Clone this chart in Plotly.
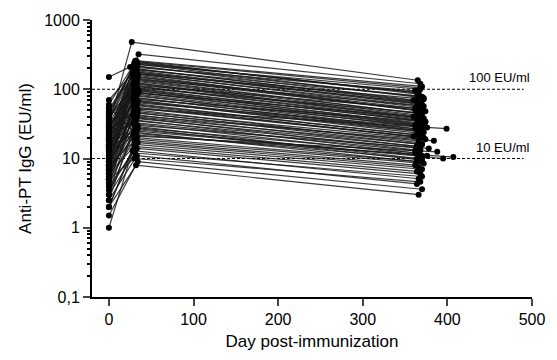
import numpy as np
import plotly.graph_objects as go

# Per-subject values: baseline (day 0), peak (~day 30), late (~day 365)
day0_values = [30, 20, 150, 60, 45, 40, 35, 25, 50, 12, 18, 70, 8, 15, 22, 10, 28, 6, 14, 40,
               5, 9, 30, 12, 4, 16, 7, 20, 11, 3, 25, 8, 13, 5, 18, 9, 2.5, 6, 12, 4,
               10, 3, 7, 15, 2, 5, 8, 3.5, 6, 2, 4, 1, 3, 2.5, 5, 1.5, 2, 35, 22, 18,
               9, 28, 14, 10, 6,
               24, 16, 48, 11, 32, 7, 19, 26, 13, 42, 9, 17, 5.5, 21, 33, 12, 8, 27, 15, 4.5,
               38, 10, 23, 6.5, 14, 55, 19, 11, 7.5, 29]
peak_days = [27, 35, 25, 32, 33, 30, 34, 31, 29, 33, 30, 28, 32, 34, 30, 33, 31, 29, 32, 30,
             35, 31, 33, 30, 32, 29, 34, 30, 33, 31, 32, 30, 34, 29, 33, 31, 32, 30, 34, 31,
             33, 30, 32, 29, 33, 31, 30, 34, 32, 30, 33, 28, 31, 33, 30, 34, 32, 30, 31, 33,
             29, 32, 34, 30, 31,
             32, 30, 33, 31, 34, 29, 32, 30, 33, 31, 34, 30, 32, 29, 33, 31, 30, 34, 32, 30,
             33, 31, 29, 32, 34, 30, 33, 31, 32, 30]
peak_values = [480, 320, 210, 260, 250, 240, 230, 220, 200, 190, 180, 170, 160, 150, 140, 130, 125, 120, 110, 100,
               95, 90, 85, 80, 75, 70, 66, 62, 58, 55, 52, 48, 45, 42, 40, 38, 35, 33, 30, 28,
               26, 25, 23, 22, 20, 19, 18, 17, 16, 15, 14, 13, 12, 11, 10, 9, 8, 230, 170, 140,
               115, 105, 88, 72, 64,
               245, 215, 195, 185, 165, 155, 145, 135, 122, 112, 102, 92, 82, 76, 68, 60, 54, 50, 46, 43,
               39, 36, 32, 29, 27, 24, 21, 255, 175, 98]
late_days = [365, 368, 362, 370, 366, 364, 372, 360, 368, 365, 370, 366, 362, 374, 364, 368, 360, 372, 366, 370,
             364, 368, 376, 362, 370, 366, 372, 364, 368, 360, 399, 374, 366, 384, 370, 364, 368, 362, 378, 366,
             395, 370, 364, 407, 368, 372, 362, 366, 370, 364, 368, 366, 370, 364, 368, 370, 366, 368, 372, 364,
             370, 366, 362, 374, 368,
             366, 370, 364, 368, 372, 362, 366, 370, 364, 368, 374, 366, 362, 370, 368, 364, 372, 366, 370, 364,
             368, 362, 376, 366, 370, 364, 388, 368, 366, 372]
late_values = [135, 120, 95, 110, 85, 90, 75, 70, 65, 80, 60, 55, 50, 48, 45, 42, 40, 38, 36, 35,
               33, 30, 28, 30, 26, 25, 24, 22, 20, 21, 27, 19, 18, 18, 16, 15, 14, 13, 14, 12,
               10, 11, 10, 10.5, 9, 8.5, 8, 7.5, 7, 6.5, 6, 5.1, 5.5, 4.3, 4.6, 3.6, 3.0, 100, 72, 58,
               52, 46, 40, 34, 29,
               88, 78, 68, 62, 57, 53, 49, 44, 41, 37, 34, 31, 27, 25, 23, 22, 20, 17, 16, 15,
               13, 12, 11, 10, 9.5, 9, 12.5, 105, 64, 31]

thresholds = [100, 10]
threshold_labels = ["100 EU/ml", "10 EU/ml"]

xs, ys = [], []
for i in range(len(day0_values)):
    xs += [0, peak_days[i], late_days[i], None]
    ys += [day0_values[i], peak_values[i], late_values[i], None]

fig = go.Figure()
for t in thresholds:
    fig.add_trace(go.Scatter(x=[-20, 490], y=[t, t], mode="lines",
                             line=dict(color="black", width=1.2, dash="3px,2px"),
                             hoverinfo="skip", showlegend=False))
fig.add_trace(go.Scatter(x=xs, y=ys, mode="lines+markers",
                         line=dict(color="rgba(25,25,25,0.85)", width=1.2),
                         marker=dict(color="black", size=6),
                         showlegend=False))

for t, lab in zip(thresholds, threshold_labels):
    fig.add_annotation(x=500, y=np.log10(t), xref="x", yref="y", text=lab,
                       showarrow=False, xanchor="right", yanchor="bottom", yshift=2,
                       font=dict(size=13, color="black"))

minor_vals = [d * 10.0 ** k for k in range(-1, 3) for d in range(2, 10)]

fig.update_layout(
    width=557, height=360,
    margin=dict(l=92, r=23, t=18, b=57),
    paper_bgcolor="white", plot_bgcolor="white",
    font=dict(family="Liberation Sans, Arial, sans-serif", color="black", size=16),
    xaxis=dict(range=[-20, 500], tickvals=[0, 100, 200, 300, 400, 500],
               ticks="outside", ticklen=7, tickwidth=2, showline=True, linewidth=2,
               linecolor="black", showgrid=False, zeroline=False,
               title=dict(text="Day post-immunization", font=dict(size=17), standoff=8),
               tickfont=dict(size=16)),
    yaxis=dict(type="log", range=[-1, 3], tickvals=[0.1, 1, 10, 100, 1000],
               ticktext=["0,1", "1", "10", "100", "1000"],
               ticks="outside", ticklen=7, tickwidth=2, showline=True, linewidth=2,
               linecolor="black", showgrid=False, zeroline=False,
               minor=dict(tickvals=minor_vals, ticks="outside", ticklen=3, tickwidth=1.5,
                          tickcolor="black", showgrid=False),
               title=dict(text="Anti-PT IgG (EU/ml)", font=dict(size=17), standoff=8),
               tickfont=dict(size=16)),
)

fig.write_html("out.html")
